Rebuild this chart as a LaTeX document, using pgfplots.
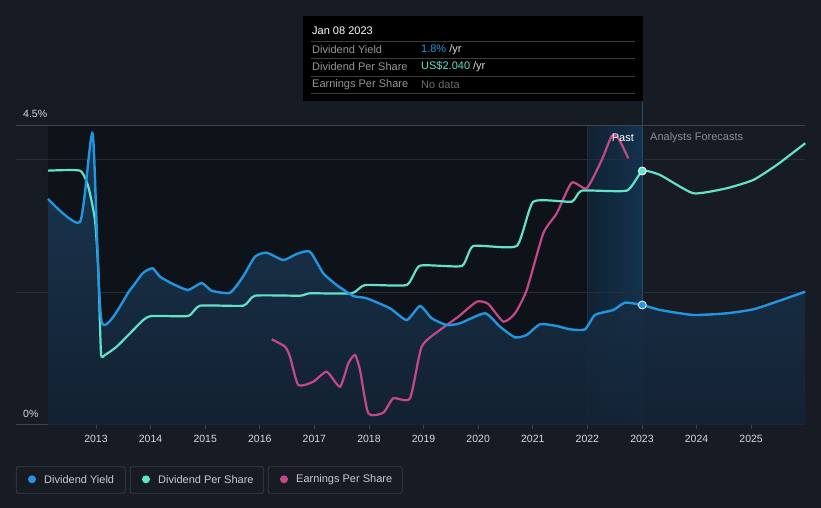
\documentclass[border=0pt]{standalone}
\usepackage{fontspec}
\setmainfont{Liberation Sans}
\usepackage{pgfplots}
\usepackage{pgfplotstable}
\pgfplotsset{compat=1.18}

\definecolor{bg}{RGB}{22,27,36}
\definecolor{pastbg}{RGB}{14,18,25}
\definecolor{yieldc}{RGB}{35,148,223}
\definecolor{dpsc}{RGB}{98,226,200}
\definecolor{epsc}{RGB}{196,72,138}
\definecolor{gridc}{RGB}{40,46,56}
\definecolor{axisc}{RGB}{62,68,78}
\definecolor{labelc}{RGB}{215,218,222}
\definecolor{mutec}{RGB}{138,143,150}
\definecolor{fillTop}{RGB}{26,60,90}
\definecolor{fillBot}{RGB}{20,35,52}
\definecolor{bandL}{RGB}{16,34,50}
\definecolor{bandR}{RGB}{20,50,78}
\definecolor{bandline}{RGB}{28,48,66}
\definecolor{nowline}{RGB}{30,78,108}
\definecolor{tipline}{RGB}{60,60,60}
\definecolor{tiplabel}{RGB}{150,150,150}
\definecolor{nodata}{RGB}{110,110,110}
\definecolor{legbox}{RGB}{58,63,72}
\definecolor{legtext}{RGB}{200,203,208}

% year, value (all series on the yield scale, %)
\pgfplotstableread{
x y
2012.121 3.402
2012.707 3.055
2012.940 4.380
2013.104 1.555
2013.623 2.032
2013.861 2.288
2014.038 2.358
2014.172 2.232
2014.410 2.122
2014.685 2.032
2014.936 2.137
2015.119 2.021
2015.454 1.991
2015.692 2.232
2015.912 2.533
2016.126 2.593
2016.430 2.483
2016.676 2.574
2016.919 2.608
2017.163 2.283
2017.408 2.107
2017.712 1.942
2017.958 1.907
2018.385 1.756
2018.690 1.580
2018.934 1.791
2019.148 1.606
2019.423 1.505
2019.667 1.531
2020.125 1.681
2020.399 1.480
2020.674 1.320
2020.888 1.355
2021.132 1.516
2021.438 1.490
2021.681 1.440
2021.956 1.440
2022.139 1.656
2022.474 1.731
2022.689 1.841
2023.005 1.806
2023.330 1.731
2023.940 1.656
2024.551 1.681
2025.038 1.741
2025.467 1.856
2025.989 2.006
}\yieldtab

\pgfplotstableread{
x y
2012.121 3.828
2012.707 3.828
2012.859 3.587
2012.982 3.085
2013.042 2.333
2013.092 1.079
2013.165 1.054
2013.379 1.179
2013.623 1.380
2013.866 1.580
2014.020 1.641
2014.690 1.641
2014.905 1.796
2015.698 1.796
2015.912 1.946
2016.736 1.946
2016.919 1.982
2017.683 1.982
2017.927 2.107
2018.690 2.107
2018.934 2.398
2019.698 2.393
2019.910 2.694
2020.705 2.694
2021.009 3.361
2021.712 3.361
2021.896 3.527
2022.720 3.527
2023.005 3.823
2023.330 3.763
2023.940 3.487
2024.551 3.563
2025.038 3.688
2025.467 3.913
2025.989 4.240
}\dpstab

\pgfplotstableread{
x y
2016.218 1.290
2016.462 1.179
2016.553 1.028
2016.705 0.602
2016.980 0.652
2017.225 0.802
2017.469 0.576
2017.621 0.929
2017.744 1.054
2017.835 0.828
2017.987 0.176
2018.262 0.185
2018.445 0.402
2018.751 0.402
2018.965 1.179
2019.300 1.430
2019.636 1.630
2019.973 1.856
2020.185 1.821
2020.460 1.555
2020.674 1.681
2020.888 2.032
2021.192 2.885
2021.438 3.186
2021.712 3.647
2021.987 3.563
2022.262 3.988
2022.445 4.350
2022.566 4.315
2022.749 4.014
}\epstab

\begin{document}
\begin{tikzpicture}[x=1pt,y=1pt,font=\fontsize{11}{13}\selectfont]
% canvas, 821 x 508
\fill[bg] (0,0) rectangle (821,508);
\fill[pastbg] (48,83) rectangle (587,382);
\shade[left color=bandL, right color=bandR] (587,83) rectangle (642,382);
\draw[bandline, line width=0.8pt] (587,83) -- (587,382);
\draw[nowline, line width=1pt] (642,83) -- (642,407);

\begin{axis}[
    at={(16pt,83pt)}, anchor=south west,
    scale only axis, width=789pt, height=299pt,
    xmin=2011.535, xmax=2025.985, ymin=0, ymax=4.5,
    axis x line=bottom, axis y line=left,
    axis line style={-, draw=axisc, line width=1pt},
    y axis line style={draw=none},
    xtick={2013,...,2025}, ytick={2,4},
    yticklabels={},
    tick align=outside, major tick length=4pt,
    x tick style={draw=axisc, line width=0.8pt},
    y tick style={draw=none},
    ymajorgrids, grid style={gridc, line width=0.8pt},
    extra y ticks={4.5}, extra y tick labels={},
    extra y tick style={grid style={axisc, line width=1pt}},
    x tick label style={/pgf/number format/1000 sep=, font=\fontsize{10.5}{12}\selectfont, text=labelc, yshift=-3pt},
    /pgf/number format/assume math mode=true,
    clip=false,
]
\addplot[draw=none, top color=fillTop, bottom color=fillBot, fill opacity=0.9, smooth, tension=0.35] table {\yieldtab} \closedcycle;
\addplot[epsc, line width=2.2pt, smooth, tension=0.35] table {\epstab};
\addplot[dpsc, line width=2.2pt, smooth, tension=0.3] table {\dpstab};
\addplot[yieldc, line width=2.4pt, smooth, tension=0.35] table {\yieldtab};
\addplot[only marks, mark=*, mark size=4pt, mark options={fill=dpsc, draw=white, line width=0.8pt}] coordinates {(2023.005,3.823)};
\addplot[only marks, mark=*, mark size=4pt, mark options={fill=yieldc, draw=white, line width=0.8pt}] coordinates {(2023.005,1.806)};
\end{axis}

% axis value labels
\node[anchor=west, text=labelc, inner sep=0, font=\fontsize{10.5}{12}\selectfont] at (23,394) {4.5\%};
\node[anchor=west, text=labelc, inner sep=0, font=\fontsize{10.5}{12}\selectfont] at (23,94) {0\%};

% past / forecast
\node[anchor=east, text=white, inner sep=0] at (634,370) {Past};
\node[anchor=west, text=mutec, inner sep=0] at (650,370) {Analysts Forecasts};

% tooltip
\fill[black] (303,407) rectangle (643,492);
\begin{scope}[draw=tipline, line width=0.8pt]
\draw (311,467) -- (635,467);
\draw (311,449.7) -- (635,449.7);
\draw (311,432) -- (635,432);
\draw (311,415) -- (635,415);
\end{scope}
\node[anchor=west, text=white, inner sep=0] at (312,477) {Jan 08 2023};
\node[anchor=west, text=tiplabel, inner sep=0] at (312,458) {Dividend Yield};
\node[anchor=west, text=tiplabel, inner sep=0] at (312,441) {Dividend Per Share};
\node[anchor=west, text=tiplabel, inner sep=0] at (312,423.5) {Earnings Per Share};
\node[anchor=west, inner sep=0] at (421,458) {\textcolor{yieldc}{1.8\%} \textcolor{labelc}{/yr}};
\node[anchor=west, inner sep=0] at (421,441) {\textcolor{dpsc}{US\$2.040} \textcolor{labelc}{/yr}};
\node[anchor=west, inner sep=0, text=nodata] at (421,423.5) {No data};

% legend
\begin{scope}[draw=legbox, line width=0.8pt, rounded corners=2pt]
\draw (16.3,14.7) rectangle (125.3,41.3);
\draw (130.3,14.7) rectangle (263.3,41.3);
\draw (268.3,14.7) rectangle (402.3,41.3);
\end{scope}
\fill[yieldc] (32,28.7) circle (4);
\fill[dpsc] (146,28.7) circle (4);
\fill[epsc] (284,28.7) circle (4);
\node[anchor=west, inner sep=0, text=legtext] at (44,28.7) {Dividend Yield};
\node[anchor=west, inner sep=0, text=legtext] at (158,28.7) {Dividend Per Share};
\node[anchor=west, inner sep=0, text=legtext] at (296,28.7) {Earnings Per Share};
\end{tikzpicture}
\end{document}
